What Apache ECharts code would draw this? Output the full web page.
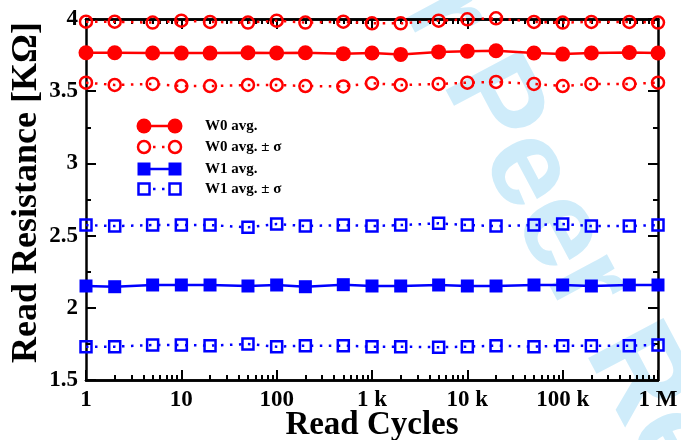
<!DOCTYPE html>
<html>
<head>
<meta charset="utf-8">
<script src="https://cdn.jsdelivr.net/npm/echarts@6/dist/echarts.min.js"></script>
<style>
  html, body { margin: 0; padding: 0; background: #fff; }
  #chart { width: 681px; height: 440px; }
</style>
</head>
<body>
<div id="chart"></div>
<script>
// read cycles on the x axis (log scale)
const cycles = [1, 2, 5, 10, 20, 50, 100, 200, 500, 1e3, 2e3, 5e3, 1e4, 2e4, 5e4, 1e5, 2e5, 5e5, 1e6];

// W0 (high state) read resistance, kOhm
const w0Avg   = [3.766, 3.766, 3.765, 3.764, 3.764, 3.766, 3.765, 3.766, 3.760, 3.765, 3.755, 3.772, 3.777, 3.780, 3.765, 3.757, 3.765, 3.768, 3.765];
const w0Upper = [3.981, 3.981, 3.975, 3.988, 3.980, 3.975, 3.988, 3.975, 3.981, 3.970, 3.970, 3.988, 3.998, 4.005, 3.980, 3.975, 3.980, 3.980, 3.975];
const w0Lower = [3.559, 3.543, 3.550, 3.536, 3.536, 3.543, 3.543, 3.536, 3.533, 3.555, 3.543, 3.550, 3.559, 3.564, 3.550, 3.536, 3.550, 3.550, 3.559];

// W1 (low state) read resistance, kOhm
const w1Avg   = [2.151, 2.146, 2.158, 2.158, 2.158, 2.151, 2.158, 2.146, 2.160, 2.151, 2.151, 2.158, 2.151, 2.151, 2.158, 2.158, 2.151, 2.158, 2.158];
const w1Upper = [2.573, 2.566, 2.573, 2.573, 2.573, 2.557, 2.580, 2.566, 2.573, 2.566, 2.573, 2.585, 2.573, 2.566, 2.573, 2.580, 2.566, 2.566, 2.573];
const w1Lower = [1.731, 1.731, 1.742, 1.742, 1.738, 1.749, 1.731, 1.738, 1.738, 1.731, 1.731, 1.727, 1.731, 1.738, 1.731, 1.738, 1.738, 1.738, 1.742];

// axis ticks
const xMinorTicks = [];
for (let d = 1; d < 1e6; d *= 10) {
  for (let m = 2; m <= 9; m++) xMinorTicks.push(m * d);
}
const xLabels = { 1: "1", 10: "10", 100: "100", 1000: "1 k", 10000: "10 k", 100000: "100 k", 1000000: "1 M" };

const legendNames = ["W0 avg.", "W0 avg. \u00b1 \u03c3", "W1 avg.", "W1 avg. \u00b1 \u03c3"];

const RED = "#ff0000";
const BLUE = "#0000ff";
const SERIF = "Liberation Serif";

const chart = echarts.init(document.getElementById("chart"), null, { renderer: "canvas" });

const pairs = (ys) => cycles.map((c, i) => [c, ys[i]]);

function solidSeries(name, ys, color, symbol, size) {
  return {
    name: name,
    type: "line",
    data: pairs(ys),
    symbol: symbol,
    symbolSize: size,
    clip: false,
    z: 3,
    itemStyle: { color: color },
    lineStyle: { color: color, width: 2.5 },
  };
}

function dottedSeries(name, ys, color, symbol, size) {
  return {
    name: name,
    type: "line",
    data: pairs(ys),
    symbol: symbol,
    symbolSize: size,
    clip: false,
    z: 3,
    itemStyle: { color: "rgba(0,0,0,0)", borderColor: color, borderWidth: 2.5 },
    lineStyle: { color: color, width: 2.5, type: [2.5, 6.5], cap: "butt" },
  };
}

// axis lines, shared look
const axisLine = { show: true, onZero: false, lineStyle: { color: "#000", width: 2.5 } };
const labelFont = { fontFamily: SERIF, fontWeight: "bold", fontSize: 23, color: "#000" };

function xAxisDef(position, major, showLabels) {
  return {
    type: "log",
    logBase: 10,
    min: 1,
    max: 1e6,
    position: position,
    axisLine: axisLine,
    splitLine: { show: false },
    axisTick: major
      ? { show: true, inside: true, length: 10, lineStyle: { color: "#000", width: 2 } }
      : { show: true, inside: true, length: 5, customValues: xMinorTicks, lineStyle: { color: "#000", width: 2 } },
    axisLabel: showLabels
      ? Object.assign({ show: true, margin: 9, formatter: (v) => xLabels[Math.round(v)] || "" }, labelFont)
      : { show: false },
    name: showLabels ? "Read Cycles" : "",
    nameLocation: "middle",
    nameGap: 29,
    nameMoveOverlap: false,
    nameTextStyle: { fontFamily: SERIF, fontWeight: "bold", fontSize: 33, color: "#000", verticalAlign: "top" },
  };
}

function yAxisDef(position, showLabels) {
  return {
    type: "value",
    min: 1.5,
    max: 4,
    interval: 0.5,
    position: position,
    axisLine: axisLine,
    splitLine: { show: false },
    axisTick: { show: true, inside: true, length: 10, lineStyle: { color: "#000", width: 2 } },
    minorTick: { show: true, splitNumber: 2, length: 5, lineStyle: { color: "#000", width: 2 } },
    minorSplitLine: { show: false },
    axisLabel: showLabels
      ? Object.assign({ show: true, margin: 8, formatter: (v) => String(v) }, labelFont)
      : { show: false },
    name: showLabels ? "Read Resistance [K\u03a9]" : "",
    nameLocation: "middle",
    nameGap: 41,
    nameMoveOverlap: false,
    nameTextStyle: { fontFamily: SERIF, fontWeight: "bold", fontSize: 36, color: "#000", padding: [0, 0, 0, 14] },
  };
}

// hand-made legend, symbols at both ends like the original plot
const legendRows = [126, 147, 169, 189];
const legendKinds = [
  { color: RED, shape: "circle", filled: true, size: 15 },
  { color: RED, shape: "circle", filled: false, size: 12 },
  { color: BLUE, shape: "rect", filled: true, size: 13 },
  { color: BLUE, shape: "rect", filled: false, size: 11 },
];

const legendGraphics = [];
legendNames.forEach((name, i) => {
  const y = legendRows[i];
  const k = legendKinds[i];
  const x1 = 144, x2 = 175;
  legendGraphics.push({
    type: "line",
    z: 100,
    shape: { x1: x1, y1: y, x2: x2, y2: y },
    style: { stroke: k.color, lineWidth: 2.5, lineDash: k.filled ? null : [2.5, 6.5] },
  });
  [x1, x2].forEach((cx) => {
    const style = k.filled
      ? { fill: k.color }
      : { fill: "#fff", stroke: k.color, lineWidth: 2.5 };
    if (k.shape === "circle") {
      legendGraphics.push({ type: "circle", z: 101, shape: { cx: cx, cy: y, r: k.size / 2 }, style: style });
    } else {
      legendGraphics.push({
        type: "rect", z: 101,
        shape: { x: cx - k.size / 2, y: y - k.size / 2, width: k.size, height: k.size },
        style: style,
      });
    }
  });
  legendGraphics.push({
    type: "text",
    z: 101,
    x: 205,
    y: y,
    style: {
      text: name,
      fill: "#000",
      font: "bold 15px \"" + SERIF + "\"",
      textVerticalAlign: "middle",
    },
  });
});

// faint diagonal watermark
const watermark = {
  type: "text",
  z: -10,
  x: 362,
  y: -140,
  rotation: -62 * Math.PI / 180,
  style: {
    text: "For Peer Review",
    fill: "#cfecfa",
    font: "bold 124px \"Liberation Sans\"",
    textVerticalAlign: "middle",
  },
};

chart.setOption({
  animation: false,
  backgroundColor: "#fff",
  grid: { left: 86, right: 23, top: 19, bottom: 60, containLabel: false, outerBoundsMode: "none" },
  xAxis: [
    xAxisDef("bottom", true, true),
    xAxisDef("bottom", false, false),
    xAxisDef("top", true, false),
    xAxisDef("top", false, false),
  ],
  yAxis: [yAxisDef("left", true), yAxisDef("right", false)],
  graphic: [watermark].concat(legendGraphics),
  series: [
    solidSeries(legendNames[0], w0Avg, RED, "circle", 15),
    dottedSeries(legendNames[1], w0Upper, RED, "circle", 12),
    dottedSeries(legendNames[1], w0Lower, RED, "circle", 12),
    solidSeries(legendNames[2], w1Avg, BLUE, "rect", 13),
    dottedSeries(legendNames[3], w1Upper, BLUE, "rect", 11),
    dottedSeries(legendNames[3], w1Lower, BLUE, "rect", 11),
  ],
});

window.addEventListener("resize", () => chart.resize());
</script>
</body>
</html>
